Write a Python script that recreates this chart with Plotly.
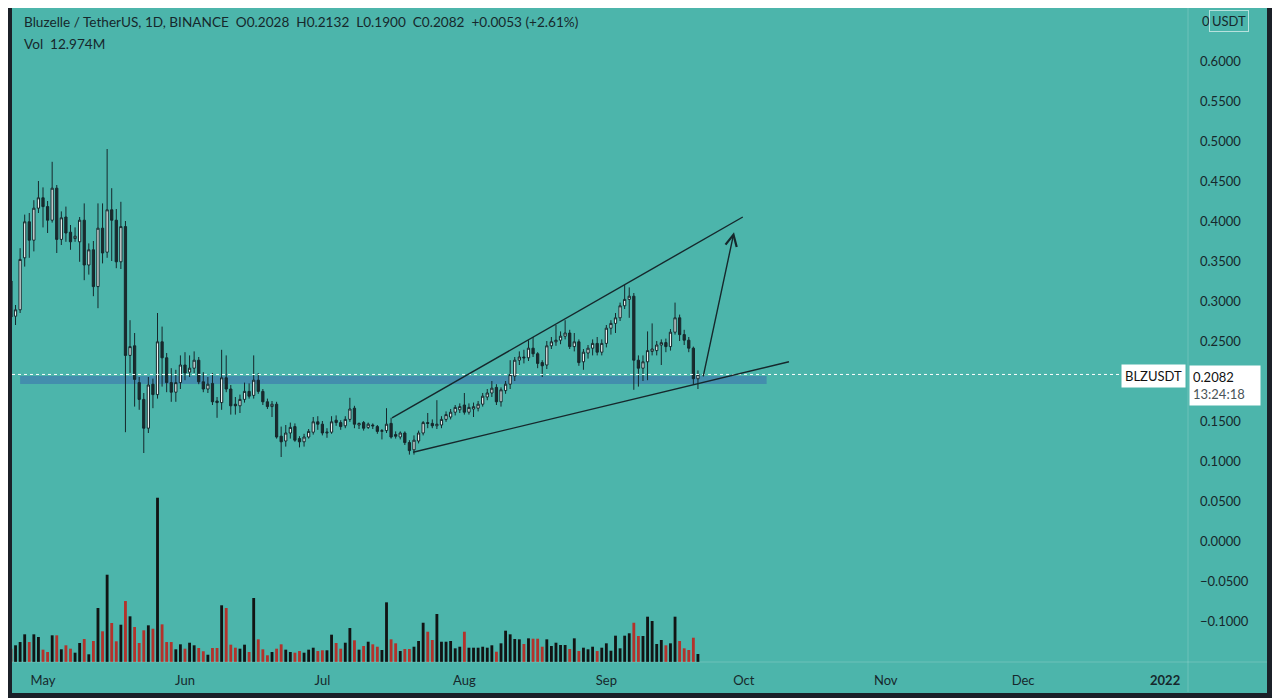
import pandas as pd
import plotly.graph_objects as go

# daily BLZ/USDT candles, first bar 2021-04-24, last bar 2021-09-21
start_day = "2021-04-24"

opens = [0.325, 0.281, 0.289, 0.354, 0.399, 0.376, 0.416, 0.429, 0.418, 0.401,
         0.441, 0.377, 0.405, 0.386, 0.378, 0.374, 0.401, 0.345, 0.364, 0.318,
         0.391, 0.361, 0.414, 0.401, 0.349, 0.393, 0.232, 0.244, 0.198, 0.177,
         0.141, 0.196, 0.183, 0.249, 0.229, 0.198, 0.186, 0.198, 0.220, 0.211,
         0.216, 0.226, 0.199, 0.190, 0.197, 0.175, 0.173, 0.204, 0.190, 0.171,
         0.169, 0.177, 0.187, 0.182, 0.201, 0.187, 0.174, 0.168, 0.171, 0.131,
         0.125, 0.135, 0.143, 0.128, 0.124, 0.130, 0.136, 0.149, 0.146, 0.135,
         0.136, 0.151, 0.148, 0.144, 0.152, 0.166, 0.145, 0.148, 0.142, 0.145,
         0.143, 0.137, 0.138, 0.147, 0.133, 0.130, 0.135, 0.123, 0.114, 0.125,
         0.135, 0.148, 0.147, 0.144, 0.145, 0.152, 0.155, 0.161, 0.164, 0.170,
         0.161, 0.165, 0.166, 0.171, 0.180, 0.185, 0.192, 0.174, 0.188, 0.196,
         0.206, 0.226, 0.230, 0.229, 0.241, 0.234, 0.223, 0.220, 0.244, 0.249,
         0.251, 0.256, 0.260, 0.243, 0.249, 0.224, 0.235, 0.241, 0.247, 0.236,
         0.247, 0.266, 0.272, 0.279, 0.294, 0.302, 0.306, 0.226, 0.216, 0.224,
         0.237, 0.238, 0.245, 0.248, 0.243, 0.261, 0.279, 0.258, 0.251, 0.241,
         0.2028]
highs = [0.330, 0.295, 0.366, 0.408, 0.410, 0.426, 0.450, 0.442, 0.425, 0.474,
         0.445, 0.412, 0.418, 0.395, 0.392, 0.405, 0.422, 0.372, 0.375, 0.422,
         0.422, 0.490, 0.441, 0.415, 0.424, 0.400, 0.276, 0.260, 0.205, 0.185,
         0.205, 0.203, 0.285, 0.268, 0.235, 0.216, 0.214, 0.232, 0.236, 0.232,
         0.237, 0.230, 0.211, 0.205, 0.210, 0.180, 0.239, 0.232, 0.195, 0.180,
         0.183, 0.198, 0.197, 0.232, 0.210, 0.190, 0.178, 0.175, 0.174, 0.143,
         0.145, 0.148, 0.147, 0.131, 0.134, 0.140, 0.155, 0.156, 0.150, 0.141,
         0.156, 0.157, 0.151, 0.156, 0.179, 0.169, 0.148, 0.150, 0.148, 0.147,
         0.145, 0.140, 0.166, 0.154, 0.137, 0.137, 0.137, 0.126, 0.132, 0.138,
         0.150, 0.160, 0.152, 0.176, 0.156, 0.162, 0.165, 0.170, 0.172, 0.185,
         0.172, 0.173, 0.175, 0.185, 0.190, 0.200, 0.196, 0.192, 0.200, 0.226,
         0.230, 0.237, 0.239, 0.251, 0.255, 0.236, 0.226, 0.250, 0.255, 0.270,
         0.262, 0.276, 0.264, 0.260, 0.252, 0.240, 0.245, 0.252, 0.255, 0.252,
         0.270, 0.276, 0.285, 0.298, 0.320, 0.317, 0.310, 0.232, 0.232, 0.262,
         0.272, 0.250, 0.252, 0.253, 0.265, 0.298, 0.283, 0.264, 0.255, 0.243,
         0.2132]
lows = [0.276, 0.270, 0.285, 0.343, 0.354, 0.362, 0.410, 0.392, 0.385, 0.398,
        0.360, 0.370, 0.374, 0.364, 0.374, 0.349, 0.326, 0.333, 0.306, 0.291,
        0.347, 0.354, 0.350, 0.341, 0.340, 0.136, 0.210, 0.168, 0.164, 0.110,
        0.135, 0.166, 0.178, 0.193, 0.186, 0.174, 0.174, 0.190, 0.201, 0.205,
        0.210, 0.196, 0.186, 0.185, 0.170, 0.154, 0.164, 0.186, 0.158, 0.158,
        0.160, 0.173, 0.178, 0.178, 0.184, 0.170, 0.165, 0.155, 0.128, 0.105,
        0.118, 0.128, 0.124, 0.117, 0.118, 0.128, 0.133, 0.139, 0.132, 0.129,
        0.134, 0.144, 0.139, 0.141, 0.149, 0.141, 0.140, 0.138, 0.140, 0.140,
        0.134, 0.127, 0.135, 0.128, 0.128, 0.127, 0.120, 0.108, 0.108, 0.122,
        0.132, 0.141, 0.141, 0.140, 0.141, 0.149, 0.152, 0.157, 0.160, 0.158,
        0.158, 0.155, 0.162, 0.168, 0.176, 0.180, 0.170, 0.168, 0.184, 0.190,
        0.200, 0.220, 0.222, 0.225, 0.230, 0.216, 0.205, 0.215, 0.240, 0.244,
        0.246, 0.252, 0.240, 0.237, 0.219, 0.214, 0.228, 0.232, 0.232, 0.232,
        0.242, 0.258, 0.260, 0.275, 0.290, 0.279, 0.189, 0.193, 0.200, 0.201,
        0.232, 0.232, 0.220, 0.236, 0.238, 0.258, 0.250, 0.245, 0.236, 0.196,
        0.1900]
closes = [0.280, 0.289, 0.352, 0.399, 0.376, 0.416, 0.429, 0.418, 0.401, 0.441,
          0.377, 0.404, 0.385, 0.374, 0.381, 0.401, 0.345, 0.364, 0.318, 0.391,
          0.360, 0.414, 0.401, 0.349, 0.393, 0.232, 0.243, 0.202, 0.177, 0.141,
          0.195, 0.183, 0.249, 0.229, 0.198, 0.186, 0.198, 0.220, 0.210, 0.216,
          0.226, 0.199, 0.190, 0.196, 0.174, 0.173, 0.204, 0.190, 0.169, 0.169,
          0.177, 0.187, 0.181, 0.201, 0.187, 0.174, 0.168, 0.171, 0.130, 0.124,
          0.135, 0.142, 0.126, 0.124, 0.130, 0.137, 0.149, 0.146, 0.135, 0.136,
          0.149, 0.148, 0.143, 0.152, 0.165, 0.146, 0.147, 0.141, 0.146, 0.144,
          0.137, 0.138, 0.146, 0.130, 0.131, 0.135, 0.123, 0.113, 0.126, 0.135,
          0.148, 0.147, 0.144, 0.146, 0.152, 0.158, 0.161, 0.167, 0.168, 0.161,
          0.167, 0.168, 0.171, 0.181, 0.185, 0.191, 0.174, 0.189, 0.196, 0.208,
          0.226, 0.230, 0.229, 0.241, 0.234, 0.222, 0.219, 0.244, 0.249, 0.251,
          0.256, 0.260, 0.243, 0.249, 0.223, 0.236, 0.241, 0.247, 0.236, 0.247,
          0.266, 0.272, 0.279, 0.294, 0.302, 0.306, 0.226, 0.216, 0.224, 0.238,
          0.240, 0.245, 0.248, 0.243, 0.261, 0.279, 0.258, 0.251, 0.241, 0.2029,
          0.2082]
# volume in millions of BLZ
volumes_m = [21.6, 27.1, 32.4, 44.9, 32.4, 44.9, 40.6, 20.0, 16.2, 43.3,
             43.3, 20.6, 27.1, 21.6, 15.1, 30.8, 37.3, 12.5, 34.1, 87.6,
             49.8, 141.6, 63.3, 33.6, 60.5, 98.9, 74.1, 56.8, 30.8, 51.4,
             59.5, 54.0, 266.5, 61.1, 32.4, 32.4, 20.6, 28.7, 21.6, 31.3,
             27.1, 22.7, 17.4, 11.8, 22.7, 22.7, 92.0, 87.6, 28.1, 23.2,
             21.6, 28.1, 16.2, 103.8, 36.8, 20.6, 10.9, 16.2, 21.6, 28.7,
             20.0, 16.2, 15.1, 17.8, 15.1, 20.0, 23.2, 17.8, 19.0, 19.0,
             44.3, 30.8, 21.6, 31.3, 55.1, 35.2, 20.0, 26.0, 32.9, 28.7,
             24.8, 19.5, 96.8, 36.8, 30.3, 17.8, 21.1, 21.1, 24.8, 34.1,
             63.7, 49.1, 35.7, 77.9, 32.9, 32.9, 34.1, 22.2, 24.8, 49.1,
             23.2, 23.2, 23.2, 24.8, 23.2, 27.1, 16.7, 30.3, 50.8, 44.9,
             37.3, 36.8, 29.2, 38.4, 37.8, 37.8, 24.8, 36.8, 26.0, 31.3,
             27.6, 27.6, 21.1, 38.4, 17.8, 23.2, 20.6, 24.8, 17.8, 23.2,
             30.3, 18.3, 42.7, 22.2, 42.7, 46.6, 63.7, 42.2, 42.2, 73.5,
             66.5, 29.2, 35.7, 27.1, 30.3, 73.5, 34.1, 22.2, 19.5, 39.4,
             12.974]

month_ticks = ["2021-05-01", "2021-06-01", "2021-07-01", "2021-08-01", "2021-09-01",
               "2021-10-01", "2021-11-01", "2021-12-01", "2022-01-01"]
month_labels = ["May", "Jun", "Jul", "Aug", "Sep", "Oct", "Nov", "Dec", "<b>2022</b>"]
# 0.2000 sits under the last-price label, 0.6500 under the currency badge
price_ticks = [-0.10, -0.05, 0.0, 0.05, 0.10, 0.15, 0.25, 0.30,
               0.35, 0.40, 0.45, 0.50, 0.55, 0.60]

# drawings on the chart (date, price)
upper_line = [("2021-07-16 05:00", 0.1538), ("2021-09-30 19:00", 0.405)]
lower_line = [("2021-07-20 19:00", 0.111), ("2021-10-10 21:00", 0.224)]
arrow_move = [("2021-09-22 02:00", 0.204), ("2021-09-28 21:00", 0.386)]
support_zone = [("2021-04-26", 0.1963), ("2021-10-06", 0.2063)]

TEAL = "#4cb5ab"
DARK = "#1b2028"
INK = "#16282c"
UP_VOL = "#111414"
DOWN_VOL = "#b3322b"
FONT = "Lato"

days = pd.date_range(start_day, periods=len(opens), freq="D")
last_close = closes[-1]
change = closes[-1] - closes[-2]
vol_colors = [UP_VOL if c >= o else DOWN_VOL for o, c in zip(opens, closes)]

# the page puts the figure 8px in from the top-left corner of the window
PAGE_OFF = 8
W, H = 1280 - PAGE_OFF, 698 - PAGE_OFF
# plot area in window pixels
L, R, T, B = 12, 1188, 8, 662


def px(x):
    return (x - L) / (R - L)


def py(y):
    return (B - y) / (B - T)


fig = go.Figure()
fig.add_trace(go.Bar(x=days, y=volumes_m, marker_color=vol_colors, marker_line_width=0,
                     width=0.62 * 86400000, yaxis="y2", hoverinfo="skip"))
fig.add_trace(go.Candlestick(
    x=days, open=opens, high=highs, low=lows, close=closes,
    increasing=dict(fillcolor="#eef3f3", line=dict(color=INK, width=1)),
    decreasing=dict(fillcolor="#1c2a2d", line=dict(color=INK, width=1)),
    whiskerwidth=0, hoverinfo="skip"))

shapes = []
# support band and last price line
shapes.append(dict(type="rect", xref="x", yref="y", x0=support_zone[0][0], x1=support_zone[1][0],
                   y0=support_zone[0][1], y1=support_zone[1][1], fillcolor="rgba(62,118,175,0.62)",
                   line_width=0, layer="below"))
shapes.append(dict(type="line", xref="paper", yref="y", x0=0, x1=1, y0=last_close, y1=last_close,
                   line=dict(color="white", width=1, dash="dot")))
for seg in (upper_line, lower_line):
    shapes.append(dict(type="line", xref="x", yref="y", x0=seg[0][0], y0=seg[0][1],
                       x1=seg[1][0], y1=seg[1][1], line=dict(color=INK, width=1.4)))
# pane separators
shapes.append(dict(type="line", xref="paper", yref="paper", x0=px(R), x1=px(R), y0=py(T), y1=py(692),
                   line=dict(color="rgba(255,255,255,0.18)", width=1)))
shapes.append(dict(type="line", xref="paper", yref="paper", x0=px(L), x1=px(1267), y0=py(B), y1=py(B),
                   line=dict(color="rgba(255,255,255,0.18)", width=1)))
# dark frame around the chart
for x0, x1, y0, y1 in [(0, L, 0, 698), (1267, 1280, 0, 698), (0, 1280, 693, 698)]:
    shapes.append(dict(type="rect", xref="paper", yref="paper", x0=px(x0), x1=px(x1),
                       y0=py(y1), y1=py(y0), fillcolor=DARK, line_width=0, layer="above"))

header = ("Bluzelle / TetherUS, 1D, BINANCE  O%.4f  H%.4f  L%.4f  C%.4f  %+.4f (%+.2f%%)"
          % (opens[-1], highs[-1], lows[-1], closes[-1], change, change / closes[-2] * 100))
annotations = [
    dict(xref="paper", yref="paper", x=px(22), y=py(22), xanchor="left", yanchor="middle",
         text=header, showarrow=False, font=dict(size=13.6, color=INK)),
    dict(xref="paper", yref="paper", x=px(22), y=py(44), xanchor="left", yanchor="middle",
         text="Vol  %.3fM" % volumes_m[-1], showarrow=False, font=dict(size=13.6, color=INK)),
    dict(xref="x", yref="y", axref="x", ayref="y", x=arrow_move[1][0], y=arrow_move[1][1],
         ax=arrow_move[0][0], ay=arrow_move[0][1], text="", showarrow=True, arrowhead=5,
         arrowsize=1.6, arrowwidth=1.4, arrowcolor=INK, standoff=0),
    dict(xref="paper", yref="paper", x=px(1200), y=py(21), xanchor="left", yanchor="middle",
         text="0", showarrow=False, font=dict(size=13, color=INK)),
    dict(xref="paper", yref="paper", x=px(1209), y=py(21), xanchor="left", yanchor="middle",
         text="USDT", showarrow=False, font=dict(size=13, color=INK),
         bordercolor="rgba(255,255,255,0.6)", borderwidth=1, borderpad=2),
    dict(xref="paper", yref="y", x=px(1186), y=last_close, xanchor="right", yanchor="middle",
         yshift=-2, text="BLZUSDT", showarrow=False, font=dict(size=13, color="#111"),
         bgcolor="white", borderpad=3),
    dict(xref="paper", yref="y", x=px(R + 1), y=last_close, xanchor="left", yanchor="top",
         yshift=9, text="%.4f<br><span style='color:#4a5558'>13:24:18</span>" % last_close,
         showarrow=False, align="left", width=64, font=dict(size=13, color="#111"),
         bgcolor="white", borderpad=3),
]

fig.update_layout(
    width=W, height=H,
    margin=dict(l=L - PAGE_OFF, r=W - (R - PAGE_OFF), t=T - PAGE_OFF, b=H - (B - PAGE_OFF)),
    paper_bgcolor=TEAL, plot_bgcolor=TEAL,
    font=dict(family=FONT, size=13, color=INK),
    showlegend=False,
    shapes=shapes, annotations=annotations,
    xaxis=dict(type="date", range=["2021-04-24 05:30", "2022-01-06"], rangeslider=dict(visible=False),
               tickvals=month_ticks, ticktext=month_labels, showgrid=False, zeroline=False,
               ticks="", ticklabelstandoff=9, tickfont=dict(size=13, color=INK)),
    yaxis=dict(side="right", range=[-0.15125, 0.66625], tickvals=price_ticks,
               ticktext=["%.4f" % v if v >= 0 else "\u2212%.4f" % abs(v) for v in price_ticks],
               showgrid=False, zeroline=False, ticks="", ticklabelstandoff=11,
               tickfont=dict(size=13, color=INK)),
    yaxis2=dict(overlaying="y", range=[0, 1061], visible=False),
)

fig.write_html("out.html")
